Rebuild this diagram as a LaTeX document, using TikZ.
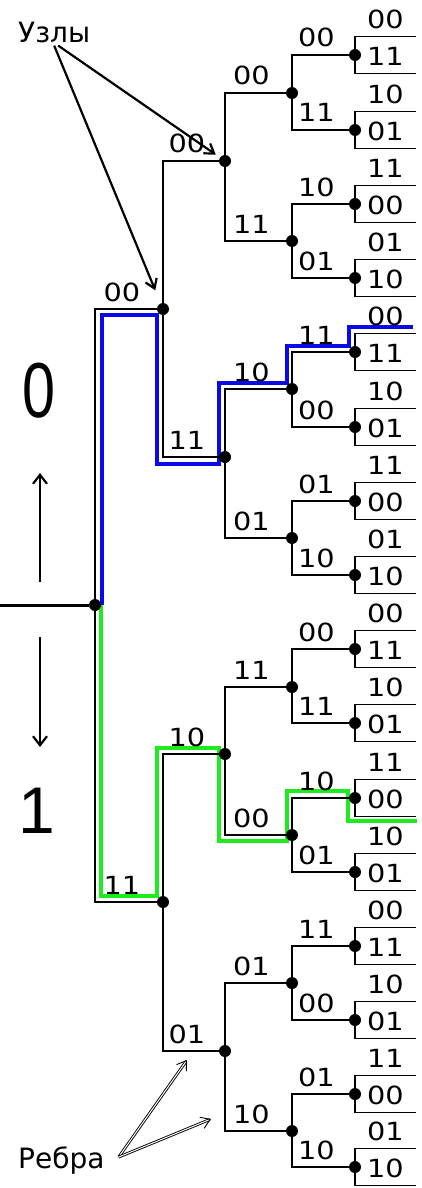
\documentclass[tikz,border=0pt]{standalone}
\usepackage{fontspec}
\setmainfont{DejaVu Sans}
\newfontfamily\lblfont[FakeStretch=1.15]{DejaVu Sans}
\newfontfamily\bigfont{Liberation Sans}
\usetikzlibrary{arrows.meta}
\definecolor{pathblue}{RGB}{10,10,230}
\definecolor{pathgreen}{RGB}{30,235,30}

\begin{document}
\begin{tikzpicture}[x=1pt, y=-1pt,
    dot/.style={circle, fill=black, inner sep=0pt, minimum size=12pt},
    branch/.style={draw=black, line width=1.5pt},
    lblbase/.style={font=\lblfont\fontsize{25}{27}\selectfont, anchor=base, inner sep=0pt, yshift=8pt},
    lbl/.style={lblbase, xshift=-4pt},
    leaf/.style={lblbase},
    trace/.style={line width=4.5pt, line join=miter},
    ann/.style={font=\fontsize{28}{30}\selectfont, anchor=base west, inner sep=2pt},
    note/.style={line width=2.2pt, -{Straight Barb[length=9pt, width=12pt]}},
    hollow/.style={double=white, draw=black, line width=0.9pt, double distance=1pt, -{Straight Barb[length=9pt, width=12pt]}},
    dir/.style={line width=2.2pt, -{Straight Barb[length=9pt, width=14pt]}},
    bigdigit/.style={font=\bigfont, inner sep=0pt}
    ]
    \useasboundingbox (0,0) rectangle (421,1188);

    \draw[trace, pathblue] (102,605) -- (102,315) -- (157,315) -- (157,464) -- (219,464) -- (219,383) -- (287,383) -- (287,346) -- (349,346) -- (349,327) -- (413,327);
    \draw[trace, pathgreen] (101,605) -- (101,896) -- (157,896) -- (157,748) -- (219,748) -- (219,841) -- (287,841) -- (287,791) -- (348,791) -- (348,821) -- (417,821);

    \node[dot] (root) at (95,605) {};
    \node[dot] (a1) at (163,309) {};
    \node[dot] (a2) at (163,902) {};
    \node[dot] (b1) at (225,161) {};
    \node[dot] (b2) at (225,457) {};
    \node[dot] (b3) at (225,754) {};
    \node[dot] (b4) at (225,1051) {};
    \node[dot] (c1) at (292,93) {};
    \node[dot] (c2) at (292,241) {};
    \node[dot] (c3) at (292,389) {};
    \node[dot] (c4) at (292,538) {};
    \node[dot] (c5) at (292,687) {};
    \node[dot] (c6) at (292,835) {};
    \node[dot] (c7) at (292,983) {};
    \node[dot] (c8) at (292,1131) {};
    \node[dot] (d1) at (355,55) {};
    \node[dot] (d2) at (355,130) {};
    \node[dot] (d3) at (355,204) {};
    \node[dot] (d4) at (355,278) {};
    \node[dot] (d5) at (355,352) {};
    \node[dot] (d6) at (355,427) {};
    \node[dot] (d7) at (355,501) {};
    \node[dot] (d8) at (355,575) {};
    \node[dot] (d9) at (355,649) {};
    \node[dot] (d10) at (355,723) {};
    \node[dot] (d11) at (355,798) {};
    \node[dot] (d12) at (355,872) {};
    \node[dot] (d13) at (355,946) {};
    \node[dot] (d14) at (355,1020) {};
    \node[dot] (d15) at (355,1094) {};
    \node[dot] (d16) at (355,1167) {};

    \coordinate (input) at (0,605);
    \draw[line width=3pt] (input) -- (root);

    \draw[branch] (root) |- (a1) node[lbl, pos=0.75] {00};
    \draw[branch] (root) |- (a2) node[lbl, pos=0.75] {11};
    \draw[branch] (a1) |- (b1) node[lbl, pos=0.75] {00};
    \draw[branch] (a1) |- (b2) node[lbl, pos=0.75] {11};
    \draw[branch] (a2) |- (b3) node[lbl, pos=0.75] {10};
    \draw[branch] (a2) |- (b4) node[lbl, pos=0.75] {01};
    \draw[branch] (b1) |- (c1) node[lbl, pos=0.75] {00};
    \draw[branch] (b1) |- (c2) node[lbl, pos=0.75] {11};
    \draw[branch] (b2) |- (c3) node[lbl, pos=0.75] {10};
    \draw[branch] (b2) |- (c4) node[lbl, pos=0.75] {01};
    \draw[branch] (b3) |- (c5) node[lbl, pos=0.75] {11};
    \draw[branch] (b3) |- (c6) node[lbl, pos=0.75] {00};
    \draw[branch] (b4) |- (c7) node[lbl, pos=0.75] {01};
    \draw[branch] (b4) |- (c8) node[lbl, pos=0.75] {10};
    \draw[branch] (c1) |- (d1) node[lbl, pos=0.75] {00};
    \draw[branch] (c1) |- (d2) node[lbl, pos=0.75] {11};
    \draw[branch] (c2) |- (d3) node[lbl, pos=0.75] {10};
    \draw[branch] (c2) |- (d4) node[lbl, pos=0.75] {01};
    \draw[branch] (c3) |- (d5) node[lbl, pos=0.75] {11};
    \draw[branch] (c3) |- (d6) node[lbl, pos=0.75] {00};
    \draw[branch] (c4) |- (d7) node[lbl, pos=0.75] {01};
    \draw[branch] (c4) |- (d8) node[lbl, pos=0.75] {10};
    \draw[branch] (c5) |- (d9) node[lbl, pos=0.75] {00};
    \draw[branch] (c5) |- (d10) node[lbl, pos=0.75] {11};
    \draw[branch] (c6) |- (d11) node[lbl, pos=0.75] {10};
    \draw[branch] (c6) |- (d12) node[lbl, pos=0.75] {01};
    \draw[branch] (c7) |- (d13) node[lbl, pos=0.75] {11};
    \draw[branch] (c7) |- (d14) node[lbl, pos=0.75] {00};
    \draw[branch] (c8) |- (d15) node[lbl, pos=0.75] {01};
    \draw[branch] (c8) |- (d16) node[lbl, pos=0.75] {10};

    \draw[branch] (d1) |- ++(61,-18.5) node[leaf, pos=0.75] {00} (d1) |- ++(61,18.5) node[leaf, pos=0.75] {11};
    \draw[branch] (d2) |- ++(61,-18.5) node[leaf, pos=0.75] {10} (d2) |- ++(61,18.5) node[leaf, pos=0.75] {01};
    \draw[branch] (d3) |- ++(61,-18.5) node[leaf, pos=0.75] {11} (d3) |- ++(61,18.5) node[leaf, pos=0.75] {00};
    \draw[branch] (d4) |- ++(61,-18.5) node[leaf, pos=0.75] {01} (d4) |- ++(61,18.5) node[leaf, pos=0.75] {10};
    \draw[branch] (d5) |- ++(61,-18.5) node[leaf, pos=0.75] {00} (d5) |- ++(61,18.5) node[leaf, pos=0.75] {11};
    \draw[branch] (d6) |- ++(61,-18.5) node[leaf, pos=0.75] {10} (d6) |- ++(61,18.5) node[leaf, pos=0.75] {01};
    \draw[branch] (d7) |- ++(61,-18.5) node[leaf, pos=0.75] {11} (d7) |- ++(61,18.5) node[leaf, pos=0.75] {00};
    \draw[branch] (d8) |- ++(61,-18.5) node[leaf, pos=0.75] {01} (d8) |- ++(61,18.5) node[leaf, pos=0.75] {10};
    \draw[branch] (d9) |- ++(61,-18.5) node[leaf, pos=0.75] {00} (d9) |- ++(61,18.5) node[leaf, pos=0.75] {11};
    \draw[branch] (d10) |- ++(61,-18.5) node[leaf, pos=0.75] {10} (d10) |- ++(61,18.5) node[leaf, pos=0.75] {01};
    \draw[branch] (d11) |- ++(61,-18.5) node[leaf, pos=0.75] {11} (d11) |- ++(61,18.5) node[leaf, pos=0.75] {00};
    \draw[branch] (d12) |- ++(61,-18.5) node[leaf, pos=0.75] {10} (d12) |- ++(61,18.5) node[leaf, pos=0.75] {01};
    \draw[branch] (d13) |- ++(61,-18.5) node[leaf, pos=0.75] {00} (d13) |- ++(61,18.5) node[leaf, pos=0.75] {11};
    \draw[branch] (d14) |- ++(61,-18.5) node[leaf, pos=0.75] {10} (d14) |- ++(61,18.5) node[leaf, pos=0.75] {01};
    \draw[branch] (d15) |- ++(61,-18.5) node[leaf, pos=0.75] {11} (d15) |- ++(61,18.5) node[leaf, pos=0.75] {00};
    \draw[branch] (d16) |- ++(61,-18.5) node[leaf, pos=0.75] {01} (d16) |- ++(61,18.5) node[leaf, pos=0.75] {10};

    \node[ann] (uzly) at (16,43) {Узлы};
    \node[ann] (rebra) at (16,1168) {Ребра};
    \draw[note, shorten >=5pt] ([xshift=4pt]uzly.south) -- (b1);
    \draw[note, shorten >=14pt] (uzly.south) -- (a1);
    \coordinate (e1) at (187,1060);
    \coordinate (e2) at (211,1119);
    \draw[hollow] ([xshift=12pt, yshift=3pt]rebra.east) -- (e1);
    \draw[hollow] ([xshift=12pt, yshift=3pt]rebra.east) -- (e2);

    \node[bigdigit, font=\bigfont\fontsize{78}{80}\selectfont] (zero) at (39,391) {\scalebox{0.76}[1]{0}};
    \node[bigdigit, font=\bigfont\fontsize{66}{68}\selectfont] (one) at (37,811) {1};
    \coordinate (upfrom) at (40,582);
    \coordinate (upto) at (40,473);
    \coordinate (downfrom) at (40,637);
    \coordinate (downto) at (40,747);
    \draw[dir] (upfrom) -- (upto);
    \draw[dir] (downfrom) -- (downto);
  \end{tikzpicture}
\end{document}
